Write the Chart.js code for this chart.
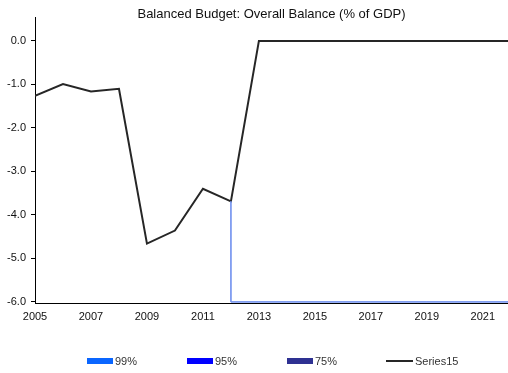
<!DOCTYPE html>
<html>
<head>
<meta charset="utf-8">
<script src="https://cdn.jsdelivr.net/npm/chart.js@4.4.1/dist/chart.umd.min.js"></script>
<style>
  html, body { margin: 0; padding: 0; background: #fff; }
  #wrap { width: 508px; height: 373px; position: relative; }
</style>
</head>
<body>
<div id="wrap"><canvas id="c" width="508" height="373"></canvas></div>
<script>
// Overall balance, % of GDP
const titleText = 'Balanced Budget: Overall Balance (% of GDP)';
const years = [2005, 2006, 2007, 2008, 2009, 2010, 2011, 2012, 2013, 2014, 2015, 2016, 2017, 2018, 2019, 2020, 2021, 2022];
const balance = [-1.26, -0.99, -1.16, -1.10, -4.66, -4.36, -3.40, -3.69, 0, 0, 0, 0, 0, 0, 0, 0, 0, 0];
// Fan bands (collapsed onto the axis floor after the last actual)
const band99 = [null, null, null, null, null, null, null, -3.69, -6, -6, -6, -6, -6, -6, -6, -6, -6, -6];
const band95 = [null, null, null, null, null, null, null, -3.69, -6, -6, -6, -6, -6, -6, -6, -6, -6, -6];
const band75 = [null, null, null, null, null, null, null, -3.69, -6, -6, -6, -6, -6, -6, -6, -6, -6, -6];
const yTicks = [-6, -5, -4, -3, -2, -1, 0];
const xTicks = [2005, 2007, 2009, 2011, 2013, 2015, 2017, 2019, 2021];
const seriesNames = ['99%', '95%', '75%', 'Series15'];

const FONT = '"Liberation Sans", Arial, sans-serif';
const pts = arr => years.map((y, i) => ({ x: y, y: arr[i] }));

const bandStyle = {
  borderWidth: 1,
  pointRadius: 0,
  fill: false,
  stepped: 'after',
  spanGaps: false
};

const titlePlugin = {
  id: 'chartTitle',
  afterDraw(chart) {
    const { ctx, chartArea } = chart;
    ctx.save();
    ctx.font = '13px ' + FONT;
    ctx.fillStyle = '#111';
    ctx.textAlign = 'center';
    ctx.textBaseline = 'alphabetic';
    ctx.fillText(titleText, (chartArea.left + chartArea.right) / 2, 18);
    ctx.restore();
  }
};

const legendPlugin = {
  id: 'evenLegend',
  afterDraw(chart) {
    const { ctx } = chart;
    const y = 361;
    ctx.save();
    ctx.font = '11px ' + FONT;
    ctx.textBaseline = 'middle';
    ctx.textAlign = 'left';
    chart.data.datasets.forEach((ds, i) => {
      const x0 = 87 + i * 100;
      if (ds.legendSwatch === 'box') {
        ctx.fillStyle = ds.legendColor;
        ctx.fillRect(x0, y - 3, 26, 6);
      } else {
        ctx.strokeStyle = ds.borderColor;
        ctx.lineWidth = 2;
        ctx.beginPath();
        ctx.moveTo(x0 - 1, y);
        ctx.lineTo(x0 + 26, y);
        ctx.stroke();
      }
      ctx.fillStyle = '#333';
      ctx.fillText(ds.label, x0 + 28, y + 0.5);
    });
    ctx.restore();
  }
};

new Chart(document.getElementById('c'), {
  type: 'line',
  data: {
    datasets: [
      Object.assign({ label: seriesNames[0], data: pts(band99), borderColor: '#7a98ee', legendSwatch: 'box', legendColor: '#0a66ff' }, bandStyle),
      Object.assign({ label: seriesNames[1], data: pts(band95), borderColor: '#7a98ee', legendSwatch: 'box', legendColor: '#0000ff' }, bandStyle),
      Object.assign({ label: seriesNames[2], data: pts(band75), borderColor: '#6f8ff0', legendSwatch: 'box', legendColor: '#2e3192' }, bandStyle),
      {
        label: seriesNames[3],
        data: pts(balance),
        borderColor: '#262626',
        borderWidth: 2,
        pointRadius: 0,
        fill: false,
        tension: 0,
        legendSwatch: 'line'
      }
    ]
  },
  options: {
    responsive: false,
    animation: false,
    devicePixelRatio: 1,
    layout: { padding: { top: 17, right: 0, bottom: 50, left: 0 } },
    plugins: {
      legend: { display: false },
      title: { display: false },
      tooltip: { enabled: false }
    },
    scales: {
      x: {
        type: 'linear',
        min: 2005,
        max: 2021.9,
        afterBuildTicks: s => { s.ticks = xTicks.map(v => ({ value: v })); },
        afterFit: s => { s.height = 20; },
        grid: { display: false, drawTicks: false },
        border: { display: true, color: '#000', width: 1 },
        ticks: {
          autoSkip: false,
          maxRotation: 0,
          padding: 7,
          color: '#111',
          font: { family: FONT, size: 11 },
          callback: v => String(v)
        }
      },
      y: {
        type: 'linear',
        min: -6.025,
        max: 0.55,
        afterBuildTicks: s => { s.ticks = yTicks.map(v => ({ value: v })); },
        afterFit: s => { s.width = 35; },
        grid: { display: true, drawOnChartArea: false, drawTicks: true, tickLength: 4, color: '#000' },
        border: { display: true, color: '#000', width: 1 },
        ticks: {
          padding: 5,
          color: '#111',
          font: { family: FONT, size: 11 },
          callback: v => v.toFixed(1)
        }
      }
    }
  },
  plugins: [titlePlugin, legendPlugin]
});
</script>
</body>
</html>
